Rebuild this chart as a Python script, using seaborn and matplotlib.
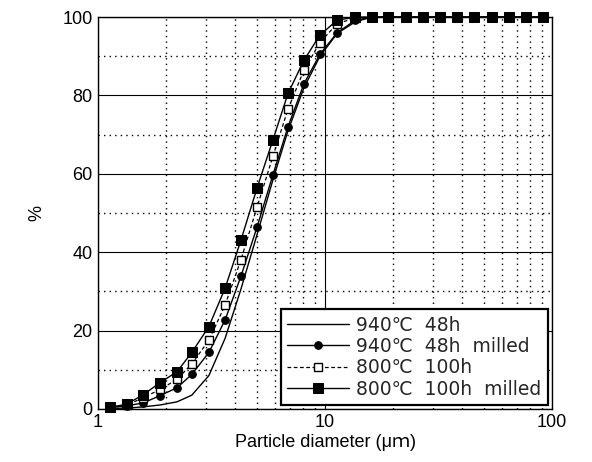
import numpy as np
import pandas as pd
import seaborn as sns
import matplotlib.pyplot as plt
from matplotlib.ticker import FixedLocator, NullFormatter

# particle diameter channels (um)
sizes = [1.13, 1.34, 1.58, 1.88, 2.23, 2.59, 3.08, 3.63, 4.26, 5.02, 5.90, 6.87, 8.08, 9.50,
         11.3, 13.6, 16.1, 19.0, 22.7, 27.0, 32.1, 38.1, 45.3, 54.4, 64.7, 76.8, 91.2]

# cumulative %
c940_48h = [0.1, 0.2, 0.5, 1.0, 1.8, 3.5, 8.5, 18.0, 30.5, 44.5, 58.5, 71.0, 82.0, 90.0,
            95.8, 98.8, 100, 100, 100, 100, 100, 100, 100, 100, 100, 100, 100]
c940_48h_milled = [0.3, 0.8, 1.5, 3.4, 5.4, 8.8, 14.4, 22.7, 33.8, 46.4, 59.8, 72.0, 83.0, 90.5,
                   96.0, 99.2, 100, 100, 100, 100, 100, 100, 100, 100, 100, 100, 100]
c800_100h = [0.4, 1.0, 2.8, 5.0, 7.5, 11.5, 17.5, 26.5, 38.0, 51.5, 64.5, 76.5, 86.5, 93.5,
             98.3, 99.8, 100, 100, 100, 100, 100, 100, 100, 100, 100, 100, 100]
c800_100h_milled = [0.4, 1.2, 3.6, 6.7, 9.5, 14.4, 21.0, 30.8, 43.0, 56.4, 68.7, 80.5, 89.0, 95.4,
                    99.2, 100, 100, 100, 100, 100, 100, 100, 100, 100, 100, 100, 100]

labels = ['940℃  48h', '940℃  48h  milled', '800℃  100h', '800℃  100h  milled']

sns.set_theme(style='white')
plt.rcParams['font.family'] = ['Liberation Sans', 'DejaVu Sans', 'Noto Sans CJK JP']

fig = plt.figure(figsize=(5.92, 4.62), dpi=100)
ax = fig.add_axes([0.1655, 0.115, 0.767, 0.848])

common = dict(ax=ax, color='black', clip_on=False)
sns.lineplot(x=sizes, y=c940_48h, lw=1.0, label=labels[0], **common)
sns.lineplot(x=sizes, y=c940_48h_milled, lw=1.0, marker='o', markersize=5.5,
             markerfacecolor='black', markeredgecolor='black', label=labels[1], **common)
sns.lineplot(x=sizes, y=c800_100h, lw=0.9, linestyle=(0, (3, 2)), marker='s', markersize=5.5,
             markerfacecolor='white', markeredgecolor='black', markeredgewidth=1.0,
             label=labels[2], **common)
sns.lineplot(x=sizes, y=c800_100h_milled, lw=1.0, marker='s', markersize=6.5,
             markerfacecolor='black', markeredgecolor='black', label=labels[3], **common)

ax.set_xscale('log')
ax.set_xlim(1, 100)
ax.set_ylim(0, 100)
ax.set_xticks([1, 10, 100])
ax.set_xticklabels(['1', '10', '100'])
ax.xaxis.set_minor_locator(FixedLocator([2, 3, 4, 5, 6, 7, 8, 9, 20, 30, 40, 50, 60, 70, 80, 90]))
ax.xaxis.set_minor_formatter(NullFormatter())
ax.set_yticks([0, 20, 40, 60, 80, 100])
ax.yaxis.set_minor_locator(FixedLocator([10, 30, 50, 70, 90]))

ax.grid(which='major', color='black', lw=0.8, ls='-')
ax.grid(which='minor', color='black', lw=1.0, ls=(0, (1, 3)))
ax.tick_params(which='both', length=0, labelsize=13, colors='black', pad=4)
for s in ax.spines.values():
    s.set_color('black')
    s.set_linewidth(1.0)

ax.set_xlabel('Particle diameter (μｍ)', fontsize=13, color='black', labelpad=2)
ax.set_ylabel('%', fontsize=13, color='black', labelpad=12)

leg = ax.legend(loc='lower right', frameon=True, fancybox=False,
                prop={'family': ['DejaVu Sans', 'Noto Sans CJK JP'], 'size': 13.5},
                handlelength=3.3, borderaxespad=0.2, labelspacing=0.12,
                borderpad=0.35, handletextpad=0.4, framealpha=1)
leg.get_frame().set_edgecolor('black')
leg.get_frame().set_linewidth(1.6)

fig.savefig('out.png', dpi=100)
